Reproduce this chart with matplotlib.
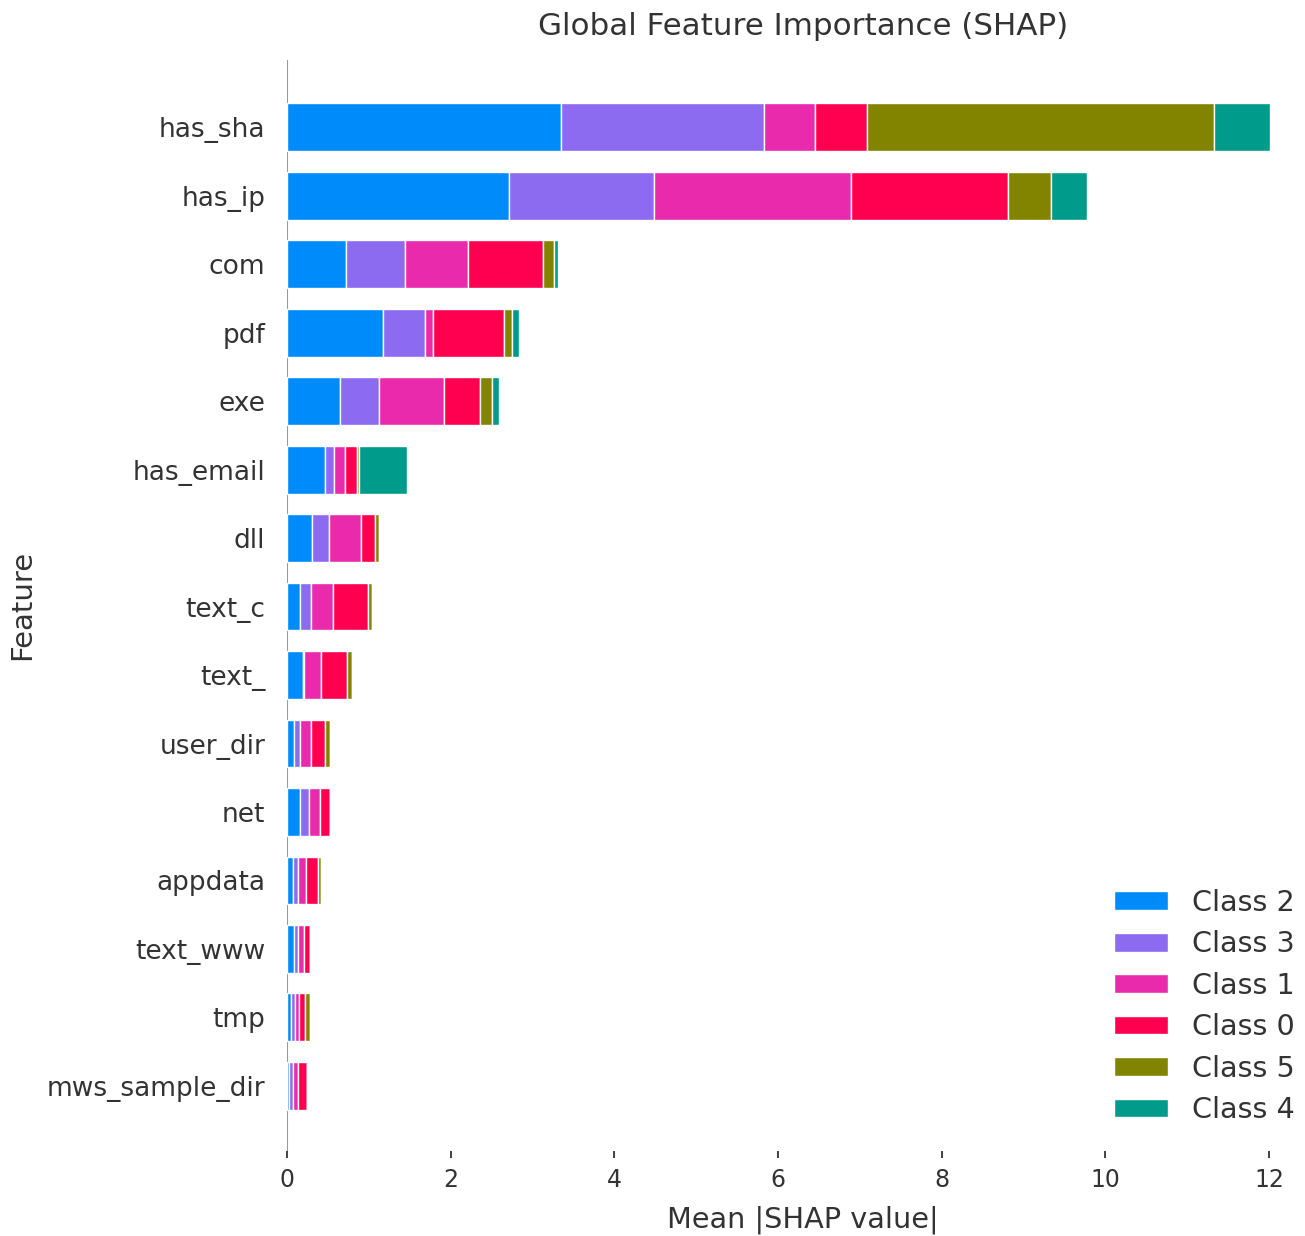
import matplotlib
matplotlib.use("Agg")
import matplotlib.pyplot as plt
import numpy as np

features = ["has_sha", "has_ip", "com", "pdf", "exe", "has_email", "dll", "text_c",
            "text_", "user_dir", "net", "appdata", "text_www", "tmp", "mws_sample_dir"]
classes = ["Class 2", "Class 3", "Class 1", "Class 0", "Class 5", "Class 4"]
colors = ["#008BFB", "#8C6BF0", "#EA2AAD", "#FF0051", "#828400", "#009B8A"]

class2 = [3.35, 2.71, 0.72, 1.17, 0.65, 0.46, 0.30, 0.16, 0.20, 0.09, 0.16, 0.07, 0.08, 0.05, 0.02]
class3 = [2.48, 1.77, 0.72, 0.52, 0.48, 0.12, 0.21, 0.13, 0.01, 0.07, 0.11, 0.06, 0.06, 0.045, 0.05]
class1 = [0.62, 2.41, 0.77, 0.10, 0.79, 0.13, 0.39, 0.27, 0.20, 0.13, 0.13, 0.10, 0.07, 0.05, 0.07]
class0 = [0.64, 1.92, 0.92, 0.86, 0.44, 0.15, 0.18, 0.43, 0.32, 0.18, 0.12, 0.15, 0.07, 0.08, 0.10]
class5 = [4.24, 0.53, 0.13, 0.10, 0.15, 0.02, 0.04, 0.05, 0.06, 0.05, 0.00, 0.04, 0.00, 0.06, 0.00]
class4 = [0.68, 0.44, 0.05, 0.08, 0.08, 0.59, 0.00, 0.00, 0.00, 0.00, 0.00, 0.00, 0.00, 0.00, 0.00]
series = [class2, class3, class1, class0, class5, class4]

W, H = 1305, 1236
fig = plt.figure(figsize=(W / 100, H / 100), dpi=100)
ax = fig.add_axes([287 / W, 1 - 1151 / H, (1319 - 287) / W, (1151 - 60) / H])

n = len(features)
ypos = np.arange(n)[::-1]
left = np.zeros(n)
handles = []
for vals, col, lab in zip(series, colors, classes):
    v = np.array(vals)
    b = ax.barh(ypos, v, height=0.7, left=left, color=col, edgecolor="white",
                linewidth=1, label=lab, zorder=2)
    handles.append(b)
    left += v

ax.axvline(0, color="#999999", linewidth=1.5, zorder=1)
ax.set_xlim(0, 12.61)
ax.set_ylim(-0.95, 14.98)
ax.set_yticks(ypos)
ax.set_yticklabels(features, fontsize=19, color="#333333")
ax.set_xticks(np.arange(0, 13, 2))
ax.tick_params(axis="x", labelsize=17, colors="#333333", length=5, width=1.3, pad=7)
ax.tick_params(axis="y", length=0, pad=15.5)
for s in ax.spines.values():
    s.set_visible(False)

ax.set_xlabel("Mean |SHAP value|", fontsize=20.7, color="#333333", labelpad=10)
fig.text(22 / W, 1 - 605 / H, "Feature", rotation=90, fontsize=21, color="#333333",
         ha="center", va="center")
ax.set_title("Global Feature Importance (SHAP)", fontsize=22.3, color="#333333", pad=18)

fig.legend(handles=handles, labels=classes, loc="lower right",
           bbox_to_anchor=(1295 / W, 1 - 1124 / H), frameon=False, fontsize=20.6,
           borderpad=0, borderaxespad=0, handlelength=1.9, handleheight=0.63,
           handletextpad=0.85, labelspacing=0.47, labelcolor="#333333")

fig.savefig("out.png", dpi=100)
